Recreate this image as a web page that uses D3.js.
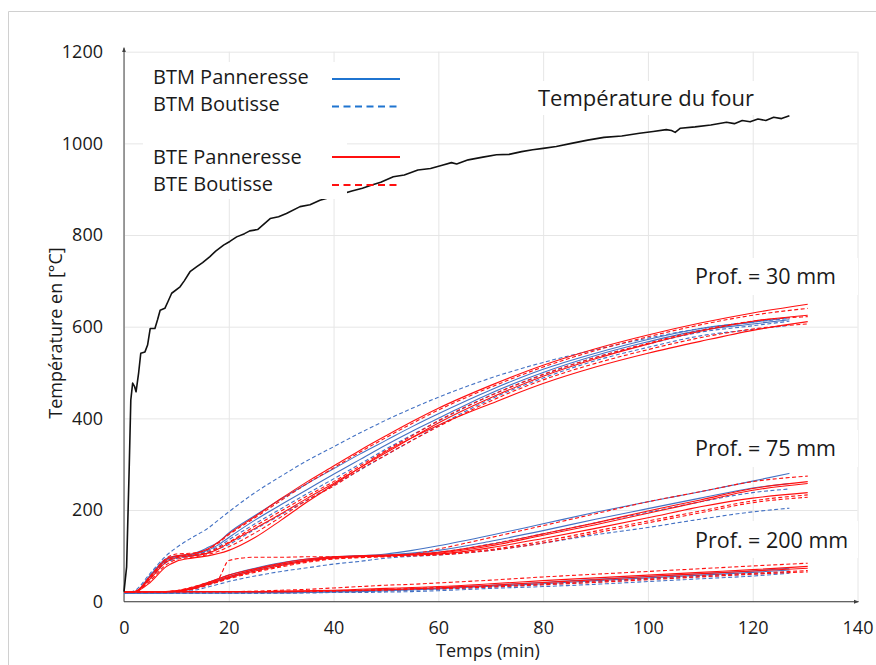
<!DOCTYPE html>
<html>
<head>
<meta charset="utf-8">
<script src="https://cdn.jsdelivr.net/npm/d3@7"></script>
<style>
  body { margin: 0; background: #fff; }
  svg { display: block; }
  text { font-family: "Open Sans", "Noto Sans", sans-serif; fill: #1a1a1a; }
</style>
</head>
<body>
<svg id="chart" width="876" height="665"></svg>
<script>
// ---- data -------------------------------------------------------------
const xTicks = [0, 20, 40, 60, 80, 100, 120, 140];
const yTicks = [0, 200, 400, 600, 800, 1000, 1200];

// furnace temperature (min, °C)
const furnaceTime = [0, 0.5, 1.0, 1.3, 1.65, 2.0, 2.3, 2.8, 3.2, 4.0, 4.5, 5.0, 5.9, 6.4, 6.9, 7.8, 8.4, 9.1,
  10.7, 11.5, 12.6, 13.9, 15.0, 16.4, 17.5, 19.0, 20.2, 21.5, 23.0, 24.0, 25.5, 27.9, 29.5, 31.0, 33.6, 35.5, 37.4, 40.5, 43.5,
  45.5, 47.3, 49.0, 51.4, 53.5, 56.1, 58.5, 60.9, 62.5, 63.5, 65.7, 68.5, 71.1, 73.5, 75.9, 78.0, 80.0, 82.5, 85.4,
  88.5, 91.6, 95.0, 98.4, 101.0, 103.5, 104.5, 105.2, 106.2, 109.0, 112.0, 115.0, 116.5,
  118.0, 119.5, 121.0, 122.5, 124.0, 125.5, 127.0];
const furnaceTemp = [22, 76, 295, 440, 477, 470, 458, 500, 542, 545, 560, 596, 596, 615, 636, 640, 655, 673,
  687, 700, 720, 731, 740, 753, 765, 778, 786, 796, 803, 809, 812, 836, 840, 847, 862, 866, 876, 886, 896,
  902, 909, 915, 927, 931, 942, 945, 953, 958, 955, 964, 970, 975, 976, 982, 986, 989, 993, 1000,
  1007, 1013, 1016, 1022, 1026, 1030, 1028, 1024, 1033, 1036, 1040, 1046, 1043,
  1050, 1047, 1053, 1050, 1057, 1054, 1060];

// sampling times of the embedded sensors
const timeBTM = [0, 2, 5, 8, 10, 13, 16, 18, 20, 25, 30, 35, 40, 45, 50, 55, 60, 70, 80, 90, 100, 110, 120, 127];
const timeBTE = [0, 2, 5, 8, 10, 13, 16, 18, 20, 25, 30, 35, 40, 45, 50, 55, 60, 70, 80, 90, 100, 110, 120, 130.5];

// depth 30 mm
const btmPan30a  = [19, 20, 58, 94, 100, 104, 118, 130, 150, 188, 224, 258, 290, 322, 352, 382, 410, 462, 507, 542, 572, 596, 610, 620];
const btmPan30b  = [19, 20, 55, 90, 98, 102, 112, 124, 140, 178, 212, 245, 278, 310, 342, 372, 400, 455, 500, 537, 567, 592, 606, 615];
const btmBout30a = [19, 24, 62, 100, 118, 140, 160, 178, 196, 238, 274, 308, 338, 368, 396, 422, 446, 488, 522, 550, 575, 596, 610, 618];
const btmBout30b = [19, 20, 54, 88, 96, 101, 110, 120, 135, 170, 203, 236, 268, 300, 333, 364, 394, 450, 495, 533, 562, 588, 602, 612];
const btmBout30c = [19, 20, 50, 85, 94, 99, 106, 115, 125, 158, 190, 222, 254, 287, 320, 352, 384, 442, 488, 526, 555, 580, 594, 603];
const btePan30a  = [22, 22, 55, 92, 100, 104, 115, 130, 148, 186, 225, 262, 296, 330, 362, 393, 422, 472, 516, 552, 582, 608, 630, 649];
const btePan30b  = [22, 22, 50, 86, 96, 100, 106, 115, 128, 160, 192, 226, 258, 292, 325, 358, 390, 445, 492, 530, 562, 590, 612, 625];
const btePan30c  = [22, 22, 42, 76, 88, 95, 100, 105, 112, 140, 178, 218, 255, 292, 328, 358, 385, 432, 476, 512, 542, 568, 592, 611];
const bteBout30a = [22, 22, 56, 94, 104, 106, 114, 128, 146, 183, 221, 258, 292, 326, 358, 389, 418, 468, 512, 548, 578, 604, 625, 640];
const bteBout30b = [22, 22, 52, 88, 98, 102, 108, 118, 130, 165, 198, 231, 262, 296, 330, 362, 395, 450, 496, 533, 564, 592, 612, 622];
const bteBout30c = [22, 22, 46, 80, 92, 97, 103, 110, 120, 150, 185, 222, 252, 288, 320, 352, 382, 438, 484, 520, 550, 576, 595, 606];

// depth 75 mm
const btmPan75a  = [19, 19, 19, 19, 22, 30, 42, 50, 58, 73, 85, 93, 98, 100, 104, 112, 122, 145, 170, 195, 218, 240, 263, 280];
const btmPan75b  = [19, 19, 19, 19, 21, 28, 38, 46, 54, 70, 82, 91, 97, 100, 102, 106, 112, 132, 155, 180, 203, 226, 248, 258];
const btmBout75a = [19, 19, 19, 19, 21, 27, 37, 44, 52, 68, 80, 90, 96, 99, 101, 104, 108, 126, 148, 172, 195, 218, 238, 246];
const btmBout75b = [19, 19, 19, 19, 20, 24, 32, 38, 44, 56, 66, 74, 82, 88, 95, 99, 102, 112, 128, 146, 162, 180, 196, 204];
const btePan75a  = [22, 22, 22, 22, 24, 31, 42, 50, 58, 72, 84, 93, 98, 100, 102, 104, 108, 125, 148, 172, 198, 222, 247, 262];
const btePan75b  = [22, 22, 22, 22, 23, 29, 40, 48, 55, 70, 82, 91, 97, 99, 101, 103, 106, 122, 145, 168, 193, 218, 243, 258];
const btePan75c  = [22, 22, 22, 22, 23, 28, 38, 45, 52, 67, 79, 89, 95, 98, 100, 102, 104, 118, 138, 160, 183, 207, 226, 238];
const bteBout75a = [22, 22, 22, 22, 24, 32, 42, 50, 90, 97, 97, 98, 98, 99, 100, 104, 115, 140, 166, 192, 218, 240, 262, 274];
const bteBout75b = [22, 22, 22, 22, 23, 28, 38, 45, 52, 66, 78, 88, 94, 97, 99, 101, 103, 114, 132, 154, 176, 198, 220, 233];
const bteBout75c = [22, 22, 22, 22, 23, 27, 36, 43, 50, 64, 76, 86, 93, 96, 98, 100, 102, 112, 128, 150, 172, 194, 216, 228];

// depth 200 mm
const btmPan200a  = [19, 19, 19, 19, 19, 19, 19, 19, 19, 20, 20, 21, 22, 24, 26, 28, 30, 36, 42, 49, 55, 61, 67, 73];
const btmPan200b  = [19, 19, 19, 19, 19, 19, 19, 19, 19, 19, 19, 20, 21, 22, 24, 26, 28, 34, 39, 46, 52, 58, 64, 69];
const btmBout200a = [19, 19, 19, 19, 19, 19, 19, 19, 19, 19, 19, 20, 21, 22, 23, 25, 27, 32, 37, 43, 49, 55, 60, 65];
const btmBout200b = [18, 18, 18, 18, 18, 18, 18, 18, 18, 18, 19, 19, 20, 20, 21, 22, 24, 29, 33, 38, 44, 50, 56, 62];
const btePan200a  = [22, 22, 22, 22, 22, 22, 22, 22, 22, 22, 23, 24, 25, 27, 29, 31, 33, 39, 46, 52, 58, 64, 70, 77];
const btePan200b  = [22, 22, 22, 22, 22, 22, 22, 22, 22, 22, 22, 23, 24, 25, 26, 28, 30, 36, 42, 48, 55, 61, 67, 73];
const bteBout200a = [22, 22, 22, 22, 22, 22, 22, 22, 22, 23, 25, 27, 30, 33, 36, 38, 41, 47, 54, 60, 66, 72, 78, 84];
const bteBout200b = [22, 22, 22, 22, 22, 22, 22, 22, 22, 22, 22, 23, 24, 25, 27, 29, 31, 34, 39, 45, 51, 57, 62, 68];
const bteBout200c = [22, 22, 22, 22, 22, 22, 22, 22, 22, 22, 22, 22, 23, 24, 25, 27, 28, 32, 37, 42, 48, 54, 60, 65];

const legendLabels = ["BTM Panneresse", "BTM Boutisse", "BTE Panneresse", "BTE Boutisse"];
const depthLabels = ["Prof. = 30 mm", "Prof. = 75 mm", "Prof. = 200 mm"];

// each measured curve: its group (legend entry) and values
const curves = [
  ["BTM Panneresse", btmPan30a], ["BTM Panneresse", btmPan30b],
  ["BTM Boutisse", btmBout30a], ["BTM Boutisse", btmBout30b], ["BTM Boutisse", btmBout30c],
  ["BTM Panneresse", btmPan75a], ["BTM Panneresse", btmPan75b],
  ["BTM Boutisse", btmBout75a], ["BTM Boutisse", btmBout75b],
  ["BTM Panneresse", btmPan200a], ["BTM Panneresse", btmPan200b],
  ["BTM Boutisse", btmBout200a], ["BTM Boutisse", btmBout200b],
  ["BTE Panneresse", btePan30a], ["BTE Panneresse", btePan30b], ["BTE Panneresse", btePan30c],
  ["BTE Boutisse", bteBout30a], ["BTE Boutisse", bteBout30b], ["BTE Boutisse", bteBout30c],
  ["BTE Panneresse", btePan75a], ["BTE Panneresse", btePan75b], ["BTE Panneresse", btePan75c],
  ["BTE Boutisse", bteBout75a], ["BTE Boutisse", bteBout75b], ["BTE Boutisse", bteBout75c],
  ["BTE Panneresse", btePan200a], ["BTE Panneresse", btePan200b],
  ["BTE Boutisse", bteBout200a], ["BTE Boutisse", bteBout200b], ["BTE Boutisse", bteBout200c]
];

// ---- styles -------------------------------------------------------------
const plotColor = { BTM: "#4472c4", BTE: "#ff1010" };
const legendColor = { BTM: "#1f74d0", BTE: "#ff1010" };
const isDashed = name => name.endsWith("Boutisse");

// ---- layout -------------------------------------------------------------
const svg = d3.select("#chart");
const x = d3.scaleLinear().domain([0, 140]).range([124, 857.5]);
const y = d3.scaleLinear().domain([0, 1200]).range([601.7, 51.7]);

// outer frame
svg.append("path")
  .attr("d", "M8.5,676 V11.5 H880")
  .attr("fill", "none").attr("stroke", "#d0d0d0").attr("stroke-width", 1);

// grid
const grid = svg.append("g");
grid.append("g")
  .attr("transform", `translate(${x(0)},0)`)
  .call(d3.axisLeft(y).tickValues(yTicks).tickSize(-(x(140) - x(0))).tickFormat(""))
  .call(g => g.select(".domain").remove())
  .call(g => g.selectAll("line").attr("stroke", "#e6e6e6"));
grid.append("g")
  .attr("transform", `translate(0,${y(0)})`)
  .call(d3.axisBottom(x).tickValues(xTicks).tickSize(-(y(0) - y(1200))).tickFormat(""))
  .call(g => g.select(".domain").remove())
  .call(g => g.selectAll("line").attr("stroke", "#e6e6e6"));

// tick labels
svg.append("g")
  .attr("transform", `translate(${x(0)},0)`)
  .call(d3.axisLeft(y).tickValues(yTicks).tickSize(0).tickPadding(21).tickFormat(d3.format("d")))
  .call(g => g.select(".domain").remove())
  .call(g => g.selectAll("text").attr("font-size", 18).attr("fill", "#1a1a1a")
    .attr("font-family", "'Open Sans', sans-serif"));
svg.append("g")
  .attr("transform", `translate(0,${y(0)})`)
  .call(d3.axisBottom(x).tickValues(xTicks).tickSize(0).tickPadding(20).tickFormat(d3.format("d")))
  .call(g => g.select(".domain").remove())
  .call(g => g.selectAll("text").attr("font-size", 18).attr("fill", "#1a1a1a")
    .attr("font-family", "'Open Sans', sans-serif"));

// axis lines with arrow heads
const defs = svg.append("defs");
defs.append("marker").attr("id", "arrow").attr("viewBox", "0 0 10 10")
  .attr("refX", 9).attr("refY", 5).attr("markerWidth", 5).attr("markerHeight", 5)
  .attr("orient", "auto-start-reverse")
  .append("path").attr("d", "M0,1 L10,5 L0,9 z").attr("fill", "#404040");
svg.append("line")
  .attr("x1", x(0)).attr("x2", x(0)).attr("y1", y(0)).attr("y2", y(1200) - 4)
  .attr("stroke", "#404040").attr("stroke-width", 1).attr("marker-end", "url(#arrow)");
svg.append("line")
  .attr("x1", x(0)).attr("x2", x(140) + 1).attr("y1", y(0)).attr("y2", y(0))
  .attr("stroke", "#404040").attr("stroke-width", 1).attr("marker-end", "url(#arrow)");

// measured curves
const line = d3.line().x(d => x(d[0])).y(d => y(d[1])).curve(d3.curveMonotoneX);
const order = curves.slice().sort((a, b) => (a[0].startsWith("BTM") ? 0 : 1) - (b[0].startsWith("BTM") ? 0 : 1));
svg.append("g").selectAll("path")
  .data(order)
  .join("path")
  .attr("d", d => {
    const times = d[0].startsWith("BTM") ? timeBTM : timeBTE;
    return line(d[1].map((v, i) => [times[i], v]));
  })
  .attr("fill", "none")
  .attr("stroke", d => plotColor[d[0].slice(0, 3)])
  .attr("stroke-width", 1.1)
  .attr("stroke-dasharray", d => isDashed(d[0]) ? "4,2.5" : null);

// furnace curve
const furnaceLine = d3.line().x(d => x(d[0])).y(d => y(d[1])).curve(d3.curveLinear);
svg.append("path")
  .attr("d", furnaceLine(furnaceTime.map((t, i) => [t, furnaceTemp[i]])))
  .attr("fill", "none").attr("stroke", "#111").attr("stroke-width", 1.6)
  .attr("stroke-linejoin", "round");

// legend
svg.append("rect").attr("x", 143).attr("y", 62).attr("width", 204).attr("height", 137).attr("fill", "#fff");
const legendY = [79, 106.5, 157, 185];
const legendTextY = [77, 104, 157, 184];
legendLabels.forEach((name, i) => {
  svg.append("text").attr("x", 153).attr("y", legendTextY[i]).attr("dy", "0.36em")
    .attr("font-size", 20).text(name);
  svg.append("line").attr("x1", 332).attr("x2", 400).attr("y1", legendY[i]).attr("y2", legendY[i])
    .attr("stroke", legendColor[name.slice(0, 3)]).attr("stroke-width", 2)
    .attr("stroke-dasharray", isDashed(name) ? "7,4.5" : null);
});

// annotations with white boxes
function note(txt, tx, ty, bx, by, bw, bh, size) {
  svg.append("rect").attr("x", bx).attr("y", by).attr("width", bw).attr("height", bh).attr("fill", "#fff");
  svg.append("text").attr("x", tx).attr("y", ty).attr("dy", "0.36em").attr("font-size", size).text(txt);
}
note("Température du four", 538, 98, 530, 81, 262, 34, 22);
note(depthLabels[0], 695, 276, 688, 258, 170, 37, 21.5);
note(depthLabels[1], 695, 448, 688, 430, 170, 37, 21.5);
note(depthLabels[2], 695, 540, 688, 521, 170, 37, 21.5);

// axis titles
svg.append("text").attr("x", 488).attr("y", 651).attr("dy", "0.36em")
  .attr("text-anchor", "middle").attr("font-size", 18).text("Temps (min)");
svg.append("text").attr("transform", "translate(56,333) rotate(-90)").attr("dy", "0.36em")
  .attr("text-anchor", "middle").attr("font-size", 18).text("Température en [°C]");
</script>
</body>
</html>
